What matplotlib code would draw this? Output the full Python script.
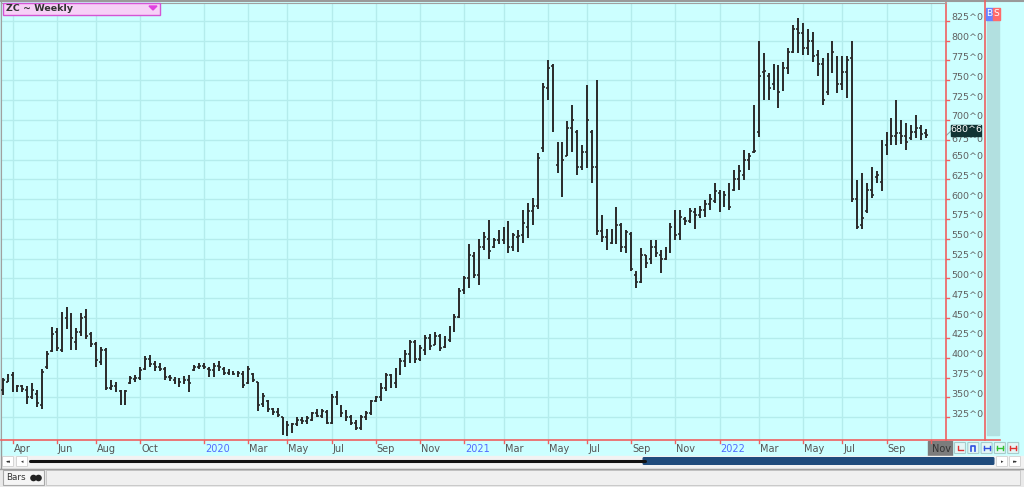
import matplotlib.pyplot as plt
import pandas as pd
import numpy as np
from matplotlib.patches import Rectangle, FancyBboxPatch, Circle, Polygon

# weekly OHLC, ZC continuous, first bar week ending 2019-03-22
opens = [360, 370, 378, 360, 364, 360, 350, 355, 340, 388, 408, 432, 410, 450, 440, 420, 432, 452, 430, 418,
         395, 410, 362, 364, 358, 342, 368, 373, 374, 386, 398, 392, 388, 386, 376, 372, 370, 369, 372, 385,
         388, 390, 386, 385, 390, 386, 381, 381, 380, 380, 368, 380, 370, 342, 345, 335, 332, 326, 308, 314,
         316, 322, 320, 322, 330, 327, 332, 318, 350, 338, 330, 325, 318, 312, 326, 330, 346, 350, 362, 378,
         368, 380, 396, 405, 420, 398, 410, 425, 416, 428, 414, 422, 436, 452, 486, 500, 528, 505, 540, 550,
         540, 548, 548, 560, 540, 552, 555, 565, 585, 592, 665, 740, 768, 643, 660, 655, 690, 685, 640, 660,
         685, 640, 560, 552, 545, 550, 568, 540, 556, 505, 496, 530, 525, 540, 530, 525, 535, 565, 556, 575,
         572, 584, 580, 586, 594, 598, 608, 596, 606, 612, 625, 630, 650, 660, 685, 760, 755, 745, 750, 738,
         765, 785, 815, 810, 790, 800, 782, 770, 735, 775, 778, 745, 760, 778, 600, 568, 585, 612, 628, 622,
         668, 675, 680, 683, 680, 677, 685, 690, 683]
highs = [375, 380, 382, 366, 366, 364, 368, 360, 386, 408, 439, 437, 458, 464, 456, 437, 456, 461, 433, 420,
         414, 412, 372, 370, 360, 360, 377, 378, 389, 402, 404, 396, 393, 389, 378, 376, 375, 377, 378, 391,
         393, 393, 389, 393, 396, 389, 386, 384, 384, 383, 390, 381, 370, 356, 347, 337, 337, 326, 320, 318,
         326, 325, 327, 332, 335, 335, 334, 354, 358, 340, 334, 328, 322, 328, 333, 347, 352, 368, 381, 380,
         387, 400, 410, 423, 423, 416, 429, 430, 432, 430, 427, 440, 455, 488, 503, 543, 534, 550, 559, 574,
         551, 561, 565, 572, 557, 561, 586, 595, 601, 658, 746, 775, 771, 672, 672, 698, 719, 687, 668, 744,
         687, 750, 580, 563, 563, 590, 570, 561, 559, 509, 538, 530, 549, 548, 536, 540, 570, 586, 586, 578,
         589, 589, 591, 599, 607, 620, 612, 610, 620, 637, 643, 662, 658, 719, 799, 784, 759, 771, 769, 773,
         790, 820, 828, 822, 815, 811, 788, 778, 784, 799, 780, 780, 780, 799, 624, 633, 620, 641, 635, 675,
         685, 702, 725, 700, 696, 694, 706, 694, 689]
lows = [353, 369, 357, 357, 357, 342, 348, 338, 336, 386, 407, 408, 407, 436, 410, 410, 428, 424, 414, 389,
        391, 359, 359, 357, 340, 340, 367, 370, 372, 385, 389, 384, 383, 372, 371, 367, 363, 367, 357, 384,
        386, 386, 376, 376, 384, 378, 378, 378, 376, 362, 367, 370, 333, 338, 332, 328, 326, 303, 302, 305,
        314, 316, 316, 320, 326, 324, 316, 316, 341, 325, 320, 315, 309, 309, 322, 328, 344, 346, 358, 362,
        362, 378, 389, 393, 393, 396, 403, 410, 416, 408, 413, 420, 432, 450, 480, 488, 500, 492, 536, 525,
        538, 544, 544, 532, 535, 534, 545, 551, 567, 588, 660, 725, 685, 633, 603, 654, 660, 631, 637, 639,
        620, 555, 546, 536, 544, 544, 534, 532, 510, 488, 494, 513, 518, 527, 507, 523, 532, 549, 549, 567,
        570, 563, 576, 578, 586, 595, 584, 590, 586, 610, 612, 624, 637, 658, 679, 725, 725, 738, 715, 736,
        758, 784, 784, 782, 782, 773, 755, 719, 731, 759, 734, 738, 727, 597, 563, 563, 582, 601, 620, 610,
        656, 668, 668, 670, 662, 675, 677, 675, 677]
closes = [372, 378, 360, 364, 361, 350, 360, 343, 382, 405, 430, 412, 450, 440, 425, 432, 450, 428, 418, 397,
          410, 362, 365, 360, 345, 358, 374, 375, 385, 398, 392, 388, 386, 376, 374, 370, 369, 372, 368, 388,
          390, 388, 385, 390, 388, 381, 382, 380, 381, 366, 386, 372, 340, 352, 335, 332, 328, 310, 315, 316,
          322, 320, 324, 330, 327, 333, 318, 350, 345, 330, 325, 318, 312, 325, 330, 345, 350, 362, 378, 370,
          380, 396, 405, 420, 398, 412, 425, 415, 428, 412, 422, 436, 452, 484, 500, 530, 505, 540, 552, 535,
          548, 550, 560, 540, 555, 554, 570, 585, 592, 652, 742, 765, 690, 660, 650, 690, 700, 640, 660, 700,
          640, 560, 552, 545, 550, 568, 540, 558, 512, 495, 530, 520, 540, 532, 525, 535, 565, 555, 578, 572,
          585, 580, 586, 594, 600, 610, 596, 605, 590, 625, 635, 650, 655, 661, 755, 762, 740, 752, 735, 765,
          785, 815, 810, 790, 800, 780, 770, 725, 775, 785, 745, 760, 775, 600, 565, 576, 612, 605, 630, 670,
          675, 680, 683, 680, 672, 685, 690, 682, 680.75]

# months that get a label on the time axis
tick_months = ['2019-04', '2019-06', '2019-08', '2019-10', '2020-01', '2020-03', '2020-05', '2020-07',
               '2020-09', '2020-11', '2021-01', '2021-03', '2021-05', '2021-07', '2021-09', '2021-11',
               '2022-01', '2022-03', '2022-05', '2022-07', '2022-09', '2022-11']
price_ticks = list(range(325, 826, 25))
last_price = '680^6'

# pixel helpers (figure is 1024 x 487)
W, H = 1024, 487
fig = plt.figure(figsize=(W / 100, H / 100), dpi=100)
fig.patch.set_facecolor('#ccffff')

bg = fig.add_axes([0, 0, 1, 1])
bg.set_xlim(0, W)
bg.set_ylim(H, 0)
bg.axis('off')

CYAN = '#ccffff'
GRID = '#b4ecec'
RED = '#f06060'

# week dates (bar of new-year holiday week is dated Dec 31)
dates = pd.date_range('2019-03-22', periods=len(closes) + 4, freq='W-FRI')
dates = [pd.Timestamp('2020-12-31') if d == pd.Timestamp('2021-01-01') else d for d in dates]
keys = [d.strftime('%Y-%m') for d in dates]
tick_idx = [keys.index(m) for m in tick_months]

# main chart axes
L, R, T, B = 1, 945.7, 3, 440
ax = fig.add_axes([L / W, 1 - B / H, (R - L) / W, (B - T) / H])
ax.set_facecolor(CYAN)
x0 = -(2.7 - L) / 4.91
ax.set_xlim(x0, x0 + (R - L) / 4.91)
ax.set_ylim(296.4, 847.3)

for v in price_ticks:
    ax.axhline(v, color=GRID, lw=1, zorder=0)
for i in tick_idx:
    ax.axvline(i, color=GRID, lw=1, zorder=0)

idx = np.arange(len(closes))
bar_col = '#2a2a2a'
ax.vlines(idx, lows, highs, color=bar_col, lw=1.4, zorder=3)
ax.hlines(opens, idx - 0.38, idx, color=bar_col, lw=1.2, zorder=3)
ax.hlines(closes, idx, idx + 0.38, color=bar_col, lw=1.2, zorder=3)

ax.set_xticks([])
ax.set_yticks([])
for s in ['left', 'top']:
    ax.spines[s].set_color('#a0a0a0')
for s in ['right', 'bottom']:
    ax.spines[s].set_color(RED)
    ax.spines[s].set_linewidth(1.2)


def xpx(i):
    return L + (i - x0) * 4.91


def ypx(v):
    return 20.7 + (825 - v) * 0.7932


# outer frame
bg.plot([0, W], [0.5, 0.5], color='#9a9a9a', lw=1.5)
bg.plot([0.5, 0.5], [0, 468], color='#9a9a9a', lw=1)

# red line below x axis extended, right separator
bg.plot([R, 1000], [B, B], color=RED, lw=1.2)
bg.plot([985, 985], [0, B], color=RED, lw=1.2)

# price scale
for v in price_ticks:
    y = ypx(v)
    bg.plot([R, R + 3], [y, y], color=RED, lw=1)
    dy = -0.5 if v == 675 else -3
    bg.text(951.5, y + dy, f'{v}^0', fontsize=6.8, color='#606060', va='center', ha='left')

# last price tag
bg.plot([R, 951], [136, 131], color='#8aa', lw=0.8)
bg.add_patch(Rectangle((951, 124.5), 30, 11, color='#123434', zorder=5))
bg.text(966, 129.5, last_price, fontsize=6.8, color='white', va='center', ha='center', zorder=6)

# side column with B / S buttons
bg.add_patch(Rectangle((987, 20), 12, 415, color='#b2e0e0'))
bg.add_patch(Rectangle((986, 8), 7, 12, color='#6a82ff'))
bg.add_patch(Rectangle((993, 8), 7, 12, color='#ff6a6a'))
bg.text(989.5, 14, 'B', fontsize=6.5, color='white', ha='center', va='center')
bg.text(996.5, 14, 'S', fontsize=6.5, color='white', ha='center', va='center')

# time axis labels
for i, m in zip(tick_idx, tick_months):
    x = xpx(i)
    d = pd.Timestamp(m + '-01')
    if d.month == 1:
        lab, col = str(d.year), '#4f6bff'
    else:
        lab, col = d.strftime('%b'), '#555555'
    if m == tick_months[-1]:
        bg.add_patch(Rectangle((x - 3, B + 1), 24, 15, color='#7c7c7c'))
        col = '#333333'
    bg.plot([x, x], [B, B + 3], color=RED, lw=1)
    bg.text(x + 1, B + 8.5, lab, fontsize=7, color=col, va='center', ha='left')

# small tool buttons bottom right
icon_cols = ['#e03030', '#3050e0', '#3050e0', '#30c030', '#e03030']
for k, c in enumerate(icon_cols):
    bx = 955 + k * 13.3
    bg.add_patch(FancyBboxPatch((bx, 443), 10, 10, boxstyle='round,pad=0.5',
                                fc='#e4f6f6', ec='#a8cccc', lw=0.8))
    if k == 0:
        bg.plot([bx + 2.5, bx + 2.5, bx + 7.5], [445.5, 450, 450], color=c, lw=1)
    elif k == 1:
        bg.plot([bx + 3, bx + 3, bx + 7, bx + 7], [451, 446, 446, 451], color=c, lw=1.2)
    else:
        bg.plot([bx + 2, bx + 8], [448, 448], color=c, lw=1)
        bg.plot([bx + 2, bx + 2], [446, 450], color=c, lw=1)
        bg.plot([bx + 8, bx + 8], [446, 450], color=c, lw=1)

# scroll bar row
bg.add_patch(Rectangle((0, 456), W, 12, color='#f2f2f2'))
for bx, s in [(3, '◂◂'), (17, '◂'), (997, '▸'), (1010, '▸▸')]:
    bg.add_patch(FancyBboxPatch((bx, 457), 10, 9, boxstyle='round,pad=0.5',
                                fc='white', ec='#d0d0d0', lw=0.6))
    bg.text(bx + 5, 461.5, s, fontsize=3.5, color='#333', ha='center', va='center')
bg.plot([30, 645], [461, 461], color='#111111', lw=2.2, solid_capstyle='round')
bg.add_patch(FancyBboxPatch((644, 458.5), 349, 5, boxstyle='round,pad=0.8',
                            fc='#1f4b7c', ec='#1f4b7c'))

# bottom tab row
bg.add_patch(Rectangle((0, 468), W, 19, color='#e9e9e9'))
bg.plot([0, W], [468.5, 468.5], color='#a0a0a0', lw=1)
bg.add_patch(Rectangle((3, 470), 41, 15, fc='#f5f5f5', ec='#a9a9a9', lw=0.8))
bg.add_patch(Rectangle((46, 470), 974, 15, fc='#f0f0f0', ec='#c4c4c4', lw=0.6))
bg.text(6.5, 478, 'Bars', fontsize=6.3, color='#333', va='center', ha='left')
bg.add_patch(Circle((33.5, 478), 2.6, color='#222'))
bg.add_patch(Circle((38.5, 478), 2.6, color='#222'))

bg.set_zorder(0)
ax.set_zorder(1)
# title box sits above the chart axes
ov = fig.add_axes([0, 0, 1, 1], facecolor='none')
ov.set_xlim(0, W)
ov.set_ylim(H, 0)
ov.axis('off')
ov.set_zorder(2)
ov.add_patch(Rectangle((2.5, 2.5), 157, 12, fc='#f7d0f7', ec='#d455d4', lw=1))
ov.text(6, 8.6, 'ZC ~ Weekly', fontsize=6.8, fontweight='bold', color='#333', va='center')
ov.add_patch(Polygon([[149, 6], [157, 6], [153, 10]], color='#e040e0'))

fig.savefig('out.png', dpi=100, facecolor=fig.get_facecolor())
